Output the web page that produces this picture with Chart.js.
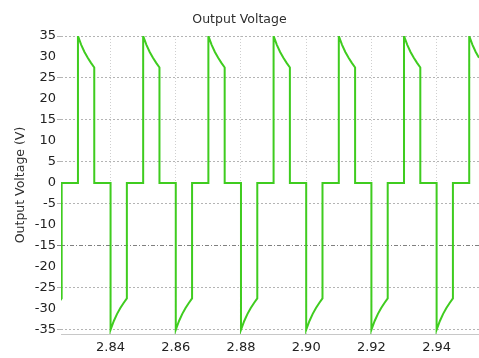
<!DOCTYPE html>
<html>
<head>
<meta charset="utf-8">
<script src="https://cdn.jsdelivr.net/npm/chart.js@4/dist/chart.umd.min.js"></script>
<style>
  html, body { margin: 0; padding: 0; background: #ffffff; }
  #wrap { width: 479px; height: 358px; }
</style>
</head>
<body>
<div id="wrap"><canvas id="c" width="479" height="358"></canvas></div>
<script>
// Sample times (s) of the output waveform, one row per pulse
const timeS = [
  2.820, 2.821, 2.822, 2.823, 2.824, 2.825, 2.825,
  2.830, 2.830, 2.831, 2.832, 2.833, 2.834, 2.835, 2.835,
  2.840, 2.840, 2.841, 2.842, 2.843, 2.844, 2.845, 2.845,
  2.850, 2.850, 2.851, 2.852, 2.853, 2.854, 2.855, 2.855,
  2.860, 2.860, 2.861, 2.862, 2.863, 2.864, 2.865, 2.865,
  2.870, 2.870, 2.871, 2.872, 2.873, 2.874, 2.875, 2.875,
  2.880, 2.880, 2.881, 2.882, 2.883, 2.884, 2.885, 2.885,
  2.890, 2.890, 2.891, 2.892, 2.893, 2.894, 2.895, 2.895,
  2.900, 2.900, 2.901, 2.902, 2.903, 2.904, 2.905, 2.905,
  2.910, 2.910, 2.911, 2.912, 2.913, 2.914, 2.915, 2.915,
  2.920, 2.920, 2.921, 2.922, 2.923, 2.924, 2.925, 2.925,
  2.930, 2.930, 2.931, 2.932, 2.933, 2.934, 2.935, 2.935,
  2.940, 2.940, 2.941, 2.942, 2.943, 2.944, 2.945, 2.945,
  2.950, 2.950, 2.951, 2.952, 2.953, 2.954, 2.955, 2.955
];

// Output voltage (V) at each sample time
const voltV = [
  -35, -32.9, -31.2, -29.8, -28.6, -27.5, 0,
  0, 35, 32.9, 31.2, 29.8, 28.6, 27.5, 0,
  0, -35, -32.9, -31.2, -29.8, -28.6, -27.5, 0,
  0, 35, 32.9, 31.2, 29.8, 28.6, 27.5, 0,
  0, -35, -32.9, -31.2, -29.8, -28.6, -27.5, 0,
  0, 35, 32.9, 31.2, 29.8, 28.6, 27.5, 0,
  0, -35, -32.9, -31.2, -29.8, -28.6, -27.5, 0,
  0, 35, 32.9, 31.2, 29.8, 28.6, 27.5, 0,
  0, -35, -32.9, -31.2, -29.8, -28.6, -27.5, 0,
  0, 35, 32.9, 31.2, 29.8, 28.6, 27.5, 0,
  0, -35, -32.9, -31.2, -29.8, -28.6, -27.5, 0,
  0, 35, 32.9, 31.2, 29.8, 28.6, 27.5, 0,
  0, -35, -32.9, -31.2, -29.8, -28.6, -27.5, 0,
  0, 35, 32.9, 31.2, 29.8, 28.6, 27.5, 0
];

const xTickValues = [2.84, 2.86, 2.88, 2.90, 2.92, 2.94];
const yTickValues = [35, 30, 25, 20, 15, 10, 5, 0, -5, -10, -15, -20, -25, -30, -35];
// Horizontal grid lines are drawn only at these levels
const yGridValues = [35, 25, 15, 5, -5, -15, -25, -35];

const FONT = "'DejaVu Sans', Verdana, sans-serif";

new Chart(document.getElementById('c'), {
  type: 'line',
  data: {
    datasets: [{
      data: timeS.map((t, i) => ({ x: t, y: voltV[i] })),
      borderColor: '#3fcc1f',
      borderWidth: 2,
      pointRadius: 0,
      tension: 0,
      fill: false
    }]
  },
  options: {
    responsive: false,
    animation: false,
    events: [],
    layout: { padding: { left: 0, right: 0, top: 0, bottom: 0 } },
    plugins: {
      legend: { display: false },
      tooltip: { enabled: false },
      title: {
        display: true,
        text: 'Output Voltage',
        color: '#2e2e2e',
        font: { family: FONT, size: 12.5, weight: 'normal' },
        padding: { top: 12, bottom: 9 }
      }
    },
    scales: {
      x: {
        type: 'linear',
        min: 2.8248,
        max: 2.953,
        afterBuildTicks: (axis) => { axis.ticks = xTickValues.map(v => ({ value: v })); },
        afterFit: (axis) => { axis.height = 24; },
        ticks: {
          color: '#222222',
          font: { family: FONT, size: 13 },
          padding: 6,
          maxRotation: 0,
          autoSkip: false,
          callback: (v) => Number(v).toFixed(2)
        },
        grid: {
          color: '#cfcfcf',
          lineWidth: 1,
          drawTicks: false
        },
        border: {
          display: true,
          color: '#c8c8c8',
          width: 1,
          dash: [1, 2]
        }
      },
      y: {
        type: 'linear',
        min: -36,
        max: 35,
        afterBuildTicks: (axis) => { axis.ticks = yTickValues.map(v => ({ value: v })); },
        afterFit: (axis) => { axis.width = 61; },
        title: {
          display: true,
          text: 'Output Voltage (V)',
          color: '#2e2e2e',
          font: { family: FONT, size: 12.5, weight: 'normal' },
          padding: { top: 13, bottom: 0 }
        },
        ticks: {
          color: '#222222',
          font: { family: FONT, size: 13 },
          padding: 1,
          autoSkip: false
        },
        grid: {
          color: (ctx) => {
            const v = ctx.tick ? ctx.tick.value : null;
            if (!yGridValues.includes(v)) return 'rgba(0,0,0,0)';
            return v === -15 ? '#808080' : '#b4b4b4';
          },
          lineWidth: 1,
          drawTicks: true,
          tickLength: 4
        },
        border: {
          display: false,
          dash: (ctx) => (ctx.tick && ctx.tick.value === -15 ? [4, 2, 1, 2] : [2, 2])
        }
      }
    }
  }
});
</script>
</body>
</html>
